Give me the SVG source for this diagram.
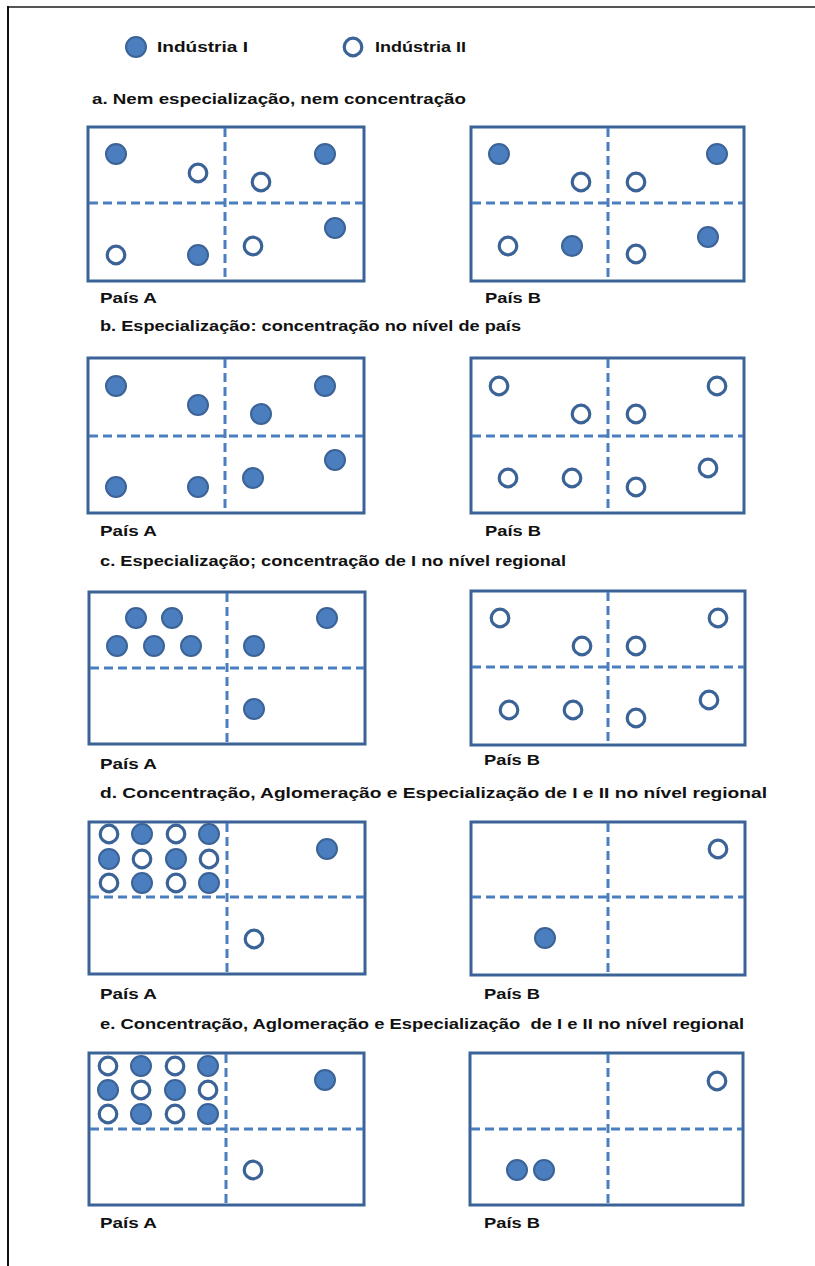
<svg xmlns="http://www.w3.org/2000/svg" width="815" height="1266" viewBox="0 0 815 1266">
<style>
.box{fill:#fff;stroke:#3b6397;stroke-width:3}
.dv{stroke:#4a7ebf;stroke-width:3;stroke-dasharray:9 5;fill:none}
.f{fill:#4a7ebf;stroke:#3b6397;stroke-width:2}
.o{fill:#fff;stroke:#3b6397;stroke-width:3.2}
.t{font-family:"Liberation Sans",Arial,sans-serif;font-weight:bold;font-size:15px;fill:#111}
.l{font-family:"Liberation Sans",Arial,sans-serif;font-weight:bold;font-size:15px;fill:#111}
</style>
<defs>
<circle id="F" r="10" class="f"/>
<circle id="O" r="8.8" class="o"/>
</defs>
<rect width="815" height="1266" fill="#fff"/>
<g id="frame">
<line x1="7" y1="7" x2="815" y2="7" stroke="#555" stroke-width="2"/>
<line x1="8" y1="6" x2="8" y2="1266" stroke="#111" stroke-width="2"/>
</g>
<g id="legend">
<use href="#F" x="136" y="47"/>
<text class="l" x="157" y="52" textLength="91" lengthAdjust="spacingAndGlyphs">Indústria I</text>
<use href="#O" x="353" y="47"/>
<text class="l" x="375" y="52" textLength="91" lengthAdjust="spacingAndGlyphs">Indústria II</text>
</g>
<g id="section-a">
<text class="t" x="92" y="104" textLength="374" lengthAdjust="spacingAndGlyphs">a. Nem especialização, nem concentração</text>
<g id="a-paisA">
<rect class="box" x="88" y="127" width="276" height="154"/>
<line class="dv" x1="225" y1="128" x2="225" y2="280"/>
<line class="dv" x1="89" y1="203" x2="363" y2="203"/>
<use href="#F" x="116" y="154"/><use href="#O" x="198" y="173"/><use href="#O" x="261" y="182"/><use href="#F" x="325" y="154"/>
<use href="#O" x="116" y="255"/><use href="#F" x="198" y="255"/><use href="#O" x="253" y="246"/><use href="#F" x="335" y="228"/>
<text class="l" x="100" y="303" textLength="57" lengthAdjust="spacingAndGlyphs">País A</text>
</g>
<g id="a-paisB">
<rect class="box" x="471" y="127" width="273" height="154"/>
<line class="dv" x1="608" y1="128" x2="608" y2="280"/>
<line class="dv" x1="472" y1="203" x2="743" y2="203"/>
<use href="#F" x="499" y="154"/><use href="#O" x="581" y="182"/><use href="#O" x="636" y="182"/><use href="#F" x="717" y="154"/>
<use href="#O" x="508" y="246"/><use href="#F" x="572" y="246"/><use href="#O" x="636" y="254"/><use href="#F" x="708" y="237"/>
<text class="l" x="485" y="303" textLength="56" lengthAdjust="spacingAndGlyphs">País B</text>
</g>
</g>
<g id="section-b">
<text class="t" x="100" y="331" textLength="421" lengthAdjust="spacingAndGlyphs">b. Especialização: concentração no nível de país</text>
<g id="b-paisA">
<rect class="box" x="88" y="358" width="276" height="155"/>
<line class="dv" x1="225" y1="359" x2="225" y2="512"/>
<line class="dv" x1="89" y1="436" x2="363" y2="436"/>
<use href="#F" x="116" y="386"/><use href="#F" x="198" y="405"/><use href="#F" x="261" y="414"/><use href="#F" x="325" y="386"/>
<use href="#F" x="116" y="487"/><use href="#F" x="198" y="487"/><use href="#F" x="253" y="478"/><use href="#F" x="335" y="460"/>
<text class="l" x="100" y="536" textLength="57" lengthAdjust="spacingAndGlyphs">País A</text>
</g>
<g id="b-paisB">
<rect class="box" x="471" y="358" width="273" height="155"/>
<line class="dv" x1="608" y1="359" x2="608" y2="512"/>
<line class="dv" x1="472" y1="436" x2="743" y2="436"/>
<use href="#O" x="499" y="386"/><use href="#O" x="581" y="414"/><use href="#O" x="636" y="414"/><use href="#O" x="717" y="386"/>
<use href="#O" x="508" y="478"/><use href="#O" x="572" y="478"/><use href="#O" x="636" y="487"/><use href="#O" x="708" y="468"/>
<text class="l" x="485" y="536" textLength="56" lengthAdjust="spacingAndGlyphs">País B</text>
</g>
</g>
<g id="section-c">
<text class="t" x="100" y="566" textLength="466" lengthAdjust="spacingAndGlyphs">c. Especialização; concentração de I no nível regional</text>
<g id="c-paisA">
<rect class="box" x="89" y="592" width="276" height="152"/>
<line class="dv" x1="227" y1="593" x2="227" y2="743"/>
<line class="dv" x1="90" y1="668" x2="364" y2="668"/>
<use href="#F" x="136" y="618"/><use href="#F" x="172" y="618"/>
<use href="#F" x="117" y="646"/><use href="#F" x="154" y="646"/><use href="#F" x="191" y="646"/>
<use href="#F" x="254" y="646"/><use href="#F" x="327" y="618"/><use href="#F" x="254" y="709"/>
<text class="l" x="100" y="769" textLength="57" lengthAdjust="spacingAndGlyphs">País A</text>
</g>
<g id="c-paisB">
<rect class="box" x="471" y="591" width="274" height="154"/>
<line class="dv" x1="608" y1="592" x2="608" y2="744"/>
<line class="dv" x1="472" y1="667" x2="744" y2="667"/>
<use href="#O" x="500" y="618"/><use href="#O" x="582" y="646"/><use href="#O" x="636" y="646"/><use href="#O" x="718" y="618"/>
<use href="#O" x="509" y="710"/><use href="#O" x="573" y="710"/><use href="#O" x="636" y="718"/><use href="#O" x="709" y="700"/>
<text class="l" x="484" y="765" textLength="56" lengthAdjust="spacingAndGlyphs">País B</text>
</g>
</g>
<g id="section-d">
<text class="t" x="100" y="798" textLength="667" lengthAdjust="spacingAndGlyphs">d. Concentração, Aglomeração e Especialização de I e II no nível regional</text>
<g id="d-paisA">
<rect class="box" x="89" y="822" width="276" height="152"/>
<line class="dv" x1="227" y1="823" x2="227" y2="973"/>
<line class="dv" x1="90" y1="897" x2="364" y2="897"/>
<use href="#O" x="109" y="834"/><use href="#F" x="142" y="834"/><use href="#O" x="176" y="834"/><use href="#F" x="209" y="834"/>
<use href="#F" x="109" y="859"/><use href="#O" x="142" y="859"/><use href="#F" x="176" y="859"/><use href="#O" x="209" y="859"/>
<use href="#O" x="109" y="883"/><use href="#F" x="142" y="883"/><use href="#O" x="176" y="883"/><use href="#F" x="209" y="883"/>
<use href="#F" x="327" y="849"/><use href="#O" x="254" y="939"/>
<text class="l" x="100" y="999" textLength="57" lengthAdjust="spacingAndGlyphs">País A</text>
</g>
<g id="d-paisB">
<rect class="box" x="471" y="822" width="274" height="153"/>
<line class="dv" x1="608" y1="823" x2="608" y2="974"/>
<line class="dv" x1="472" y1="897" x2="744" y2="897"/>
<use href="#O" x="718" y="849"/><use href="#F" x="545" y="938"/>
<text class="l" x="484" y="999" textLength="56" lengthAdjust="spacingAndGlyphs">País B</text>
</g>
</g>
<g id="section-e">
<text class="t" x="100" y="1029" textLength="644" lengthAdjust="spacingAndGlyphs" xml:space="preserve">e. Concentração, Aglomeração e Especialização  de I e II no nível regional</text>
<g id="e-paisA">
<rect class="box" x="89" y="1053" width="275" height="152"/>
<line class="dv" x1="226" y1="1054" x2="226" y2="1204"/>
<line class="dv" x1="90" y1="1129" x2="363" y2="1129"/>
<use href="#O" x="108" y="1066"/><use href="#F" x="141" y="1066"/><use href="#O" x="175" y="1066"/><use href="#F" x="208" y="1066"/>
<use href="#F" x="108" y="1090"/><use href="#O" x="141" y="1090"/><use href="#F" x="175" y="1090"/><use href="#O" x="208" y="1090"/>
<use href="#O" x="108" y="1114"/><use href="#F" x="141" y="1114"/><use href="#O" x="175" y="1114"/><use href="#F" x="208" y="1114"/>
<use href="#F" x="325" y="1080"/><use href="#O" x="253" y="1170"/>
<text class="l" x="100" y="1228" textLength="57" lengthAdjust="spacingAndGlyphs">País A</text>
</g>
<g id="e-paisB">
<rect class="box" x="470" y="1053" width="273" height="152"/>
<line class="dv" x1="608" y1="1054" x2="608" y2="1204"/>
<line class="dv" x1="471" y1="1129" x2="742" y2="1129"/>
<use href="#O" x="717" y="1081"/><use href="#F" x="517" y="1170"/><use href="#F" x="544" y="1170"/>
<text class="l" x="484" y="1228" textLength="56" lengthAdjust="spacingAndGlyphs">País B</text>
</g>
</g>
</svg>
